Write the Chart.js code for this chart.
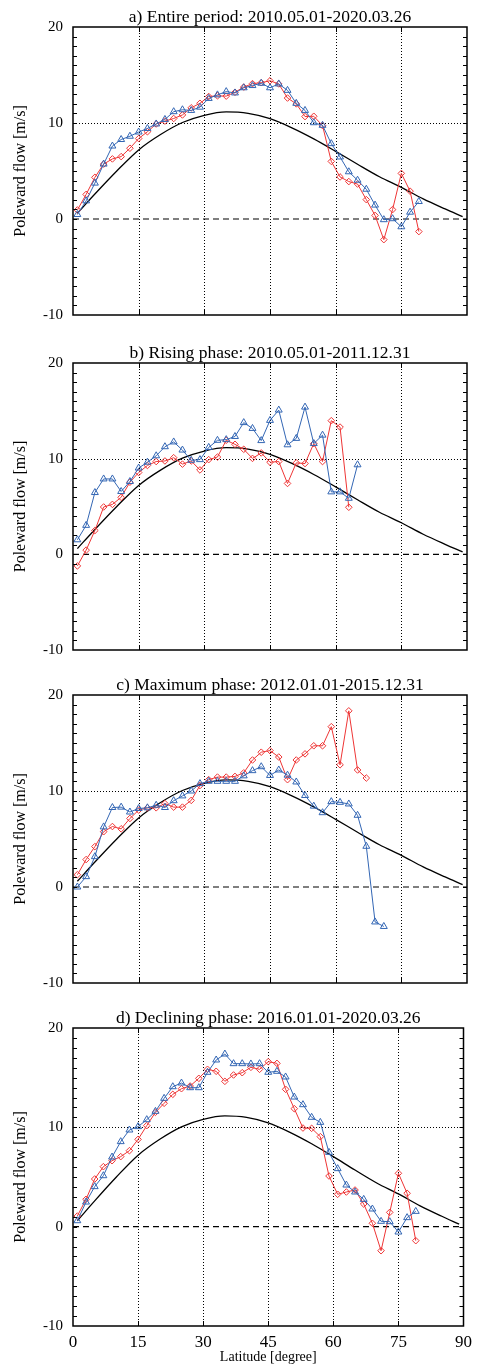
<!DOCTYPE html>
<html>
<head>
<meta charset="utf-8">
<script src="https://cdn.jsdelivr.net/npm/chart.js@4/dist/chart.umd.min.js"></script>
<style>
  html, body { margin: 0; padding: 0; background: #fff; }
  #wrap { position: relative; width: 478px; height: 1371px; }
  #wrap canvas { position: absolute; left: 0; }
</style>
</head>
<body>
<div id="wrap"></div>
<script>
// latitudes of the binned points (degree)
const latAll = [1, 3, 5, 7, 9, 11, 13, 15, 17, 19, 21, 23, 25, 27, 29, 31, 33, 35, 37, 39,
  41, 43, 45, 47, 49, 51, 53, 55, 57, 59, 61, 63, 65, 67, 69, 71, 73, 75, 77, 79];

// a) entire period
const redA = [0.94, 2.56, 4.34, 5.72, 6.26, 6.5, 7.37, 8.38, 9.09, 9.9, 10.2, 10.47, 10.84, 11.58, 12.05, 12.76, 12.83, 12.8, 13.2, 13.74,
  14.1, 14.2, 14.4, 14.07, 12.6, 12.0, 10.67, 10.7, 9.73, 6.0, 4.38, 3.9, 3.64, 2.02, 0.37, -2.15, 0.98, 4.75, 2.9, -1.31];
const blueA = [0.47, 1.89, 3.74, 5.72, 7.6, 8.28, 8.62, 9.06, 9.43, 9.9, 10.37, 11.18, 11.38, 11.31, 11.65, 12.56, 12.93, 13.27, 13.13, 13.67,
  13.9, 14.14, 13.67, 14.07, 13.4, 12.05, 11.31, 10.03, 9.76, 7.85, 6.46, 4.92, 4.04, 3.1, 1.45, -0.07, 0.03, -0.81, 0.71, 1.82];

// b) rising phase
const redB = [-1.21, 0.44, 2.49, 4.95, 5.22, 5.96, 7.54, 8.55, 9.29, 9.7, 9.76, 10.1, 9.43, 9.76, 8.82, 9.9, 10.17, 11.92, 11.5, 10.98,
  10.03, 10.6, 9.63, 9.7, 7.41, 9.56, 9.49, 11.58, 9.7, 13.97, 13.3, 4.92];
const blueB = [1.52, 3.03, 6.46, 7.88, 7.88, 6.57, 7.61, 9.02, 9.63, 10.3, 11.25, 11.75, 10.9, 9.83, 9.9, 11.18, 11.92, 11.99, 12.32, 13.77,
  13.16, 11.89, 14.0, 15.08, 11.45, 12.12, 15.39, 11.58, 12.46, 6.53, 6.53, 5.86, 9.36];

// c) maximum phase
const redC = [1.28, 2.86, 4.21, 5.76, 6.3, 6.06, 7.14, 8.01, 8.25, 8.25, 8.69, 8.32, 8.32, 9.02, 10.57, 11.18, 11.45, 11.45, 11.52, 11.89,
  13.23, 14.04, 14.21, 13.54, 11.18, 13.23, 13.87, 14.71, 14.71, 16.7, 12.73, 18.35, 12.19, 11.35];
const blueC = [0, 1.08, 3.16, 6.26, 8.28, 8.32, 7.81, 8.18, 8.25, 8.52, 8.28, 8.99, 9.49, 10.0, 10.77, 11.01, 11.01, 11.01, 11.01, 11.58,
  12.12, 12.53, 11.62, 12.19, 11.65, 10.94, 9.53, 8.42, 7.74, 8.89, 8.82, 8.65, 7.47, 4.24, -3.64, -4.11];

// d) declining phase
const redD = [1.07, 2.75, 4.8, 6.04, 6.64, 7.05, 7.65, 8.79, 10.17, 11.51, 12.42, 13.32, 13.89, 14.16, 14.93, 15.84, 15.64, 14.63, 15.27, 15.5,
  16.04, 15.84, 16.61, 16.44, 13.83, 11.88, 9.93, 9.9, 9.06, 5.1, 3.26, 3.49, 3.69, 2.28, 0.34, -2.42, 1.44, 5.37, 3.36, -1.41];
const blueD = [0.6, 2.48, 4.03, 5.13, 7.01, 8.56, 9.73, 10.07, 10.77, 11.61, 12.92, 14.09, 14.46, 13.99, 13.99, 15.54, 16.78, 17.38, 16.41, 16.41,
  16.38, 16.41, 15.54, 15.64, 15.07, 13.05, 12.28, 11.01, 10.5, 7.48, 5.84, 4.19, 3.49, 2.75, 1.78, 0.54, 0.5, -0.54, 0.91, 1.54];

// reference profile (black curve)
const modelLat = [1, 5, 10, 15, 20, 25, 30, 35, 40, 45, 50, 55, 60, 65, 70, 75, 80, 85, 89];
const modelV = [0.6, 2.6, 5.0, 7.2, 8.8, 10.05, 10.8, 11.15, 11.0, 10.45, 9.5, 8.35, 7.05, 5.7, 4.4, 3.3, 2.1, 1.05, 0.25];

const xTicks = [0, 15, 30, 45, 60, 75, 90];
const yLabels = [-10, 0, 10, 20];

const titles = [
  'a) Entire period: 2010.05.01-2020.03.26',
  'b) Rising phase: 2010.05.01-2011.12.31',
  'c) Maximum phase: 2012.01.01-2015.12.31',
  'd) Declining phase: 2016.01.01-2020.03.26'
];

const FONT = "'Liberation Serif', 'Times New Roman', serif";
const RED = '#ee3535';
const BLUE = '#3366b4';

const pts = (lats, vals) => vals.map((v, i) => ({ x: lats[i], y: v }));

// dotted grid, frame and inward ticks
const framePlugin = {
  id: 'frame',
  beforeDatasetsDraw(chart) {
    const { ctx, chartArea: a, scales: { x, y } } = chart;
    ctx.save();
    ctx.strokeStyle = '#000';
    ctx.lineWidth = 1;
    ctx.setLineDash([1, 2]);
    ctx.beginPath();
    xTicks.slice(1, -1).forEach(v => {
      const px = Math.round(x.getPixelForValue(v)) + 0.5;
      ctx.moveTo(px, a.top);
      ctx.lineTo(px, a.bottom);
    });
    const py = Math.round(y.getPixelForValue(10)) + 0.5;
    ctx.moveTo(a.left, py);
    ctx.lineTo(a.right, py);
    ctx.stroke();
    ctx.restore();
  },
  afterDatasetsDraw(chart) {
    const { ctx, chartArea: a, scales: { x, y } } = chart;
    ctx.save();
    ctx.strokeStyle = '#000';
    ctx.lineWidth = 1;
    ctx.beginPath();
    for (let v = -9; v < 20; v++) {
      const py = Math.round(y.getPixelForValue(v)) + 0.5;
      ctx.moveTo(a.left, py);
      ctx.lineTo(a.left + 4, py);
      ctx.moveTo(a.right, py);
      ctx.lineTo(a.right - 4, py);
    }
    xTicks.slice(1, -1).forEach(v => {
      const px = Math.round(x.getPixelForValue(v)) + 0.5;
      ctx.moveTo(px, a.bottom);
      ctx.lineTo(px, a.bottom - 5);
      ctx.moveTo(px, a.top);
      ctx.lineTo(px, a.top + 5);
    });
    ctx.stroke();
    ctx.lineWidth = 1.5;
    ctx.strokeRect(a.left, a.top, a.right - a.left, a.bottom - a.top);
    ctx.restore();
  }
};

function makePanel(idx, top, plotH, red, blue, last) {
  const bottomH = last ? 45 : 10;
  const canvas = document.createElement('canvas');
  canvas.width = 478;
  canvas.height = 21 + plotH + bottomH;
  canvas.style.top = top + 'px';
  canvas.style.width = '478px';
  canvas.style.height = canvas.height + 'px';
  document.getElementById('wrap').appendChild(canvas);

  return new Chart(canvas, {
    type: 'line',
    data: {
      datasets: [
        {
          label: 'zero',
          data: [{ x: 0, y: 0 }, { x: 90, y: 0 }],
          borderColor: '#000',
          borderWidth: 1.2,
          borderDash: [6, 4],
          pointRadius: 0,
          order: 4
        },
        {
          label: 'profile',
          data: pts(modelLat, modelV),
          borderColor: '#000',
          borderWidth: 1.3,
          cubicInterpolationMode: 'monotone',
          pointRadius: 0,
          order: 3
        },
        {
          label: 'red',
          data: pts(latAll, red),
          borderColor: RED,
          borderWidth: 1,
          pointStyle: 'rectRot',
          pointRadius: 3.3,
          pointBorderWidth: 1,
          pointBorderColor: RED,
          pointBackgroundColor: 'rgba(255,255,255,0)',
          order: 2
        },
        {
          label: 'blue',
          data: pts(latAll, blue),
          borderColor: BLUE,
          borderWidth: 1,
          pointStyle: 'triangle',
          pointRadius: 4,
          pointBorderWidth: 1,
          pointBorderColor: BLUE,
          pointBackgroundColor: 'rgba(255,255,255,0)',
          order: 1
        }
      ]
    },
    options: {
      responsive: false,
      animation: false,
      layout: { padding: { left: 0, right: 11, top: 0, bottom: 0 } },
      scales: {
        x: {
          type: 'linear',
          min: 0,
          max: 90,
          afterBuildTicks: (s) => { s.ticks = xTicks.map(v => ({ value: v })); },
          ticks: {
            display: last,
            font: { family: FONT, size: 17 },
            color: '#000',
            padding: 6,
            maxRotation: 0,
            autoSkip: false
          },
          grid: { display: false, drawTicks: false },
          border: { display: false },
          title: {
            display: last,
            text: 'Latitude [degree]',
            font: { family: FONT, size: 14 },
            color: '#000',
            padding: { top: 0, bottom: 5.5 }
          },
          afterFit: (s) => { s.height = bottomH; }
        },
        y: {
          min: -10,
          max: 20,
          afterBuildTicks: (s) => { s.ticks = yLabels.map(v => ({ value: v })); },
          ticks: {
            font: { family: FONT, size: 15 },
            color: '#000',
            padding: 10
          },
          grid: { display: false, drawTicks: false },
          border: { display: false },
          title: {
            display: true,
            text: 'Poleward flow [m/s]',
            font: { family: FONT, size: 16 },
            color: '#000',
            padding: { top: 11.4, bottom: 0 }
          },
          afterFit: (s) => { s.width = 73; }
        }
      },
      plugins: {
        legend: { display: false },
        tooltip: { enabled: false },
        title: {
          display: true,
          fullSize: false,
          text: titles[idx],
          font: { family: FONT, size: 17.5, weight: 'normal', lineHeight: 1.1 },
          color: '#000',
          padding: { top: 1.45, bottom: 0.3 }
        }
      }
    },
    plugins: [framePlugin]
  });
}

makePanel(0, 6, 297, redA, blueA, false);
makePanel(1, 342, 296, redB, blueB, false);
makePanel(2, 674, 297, redC, blueC, false);
makePanel(3, 1007, 298, redD, blueD, true);
</script>
</body>
</html>
